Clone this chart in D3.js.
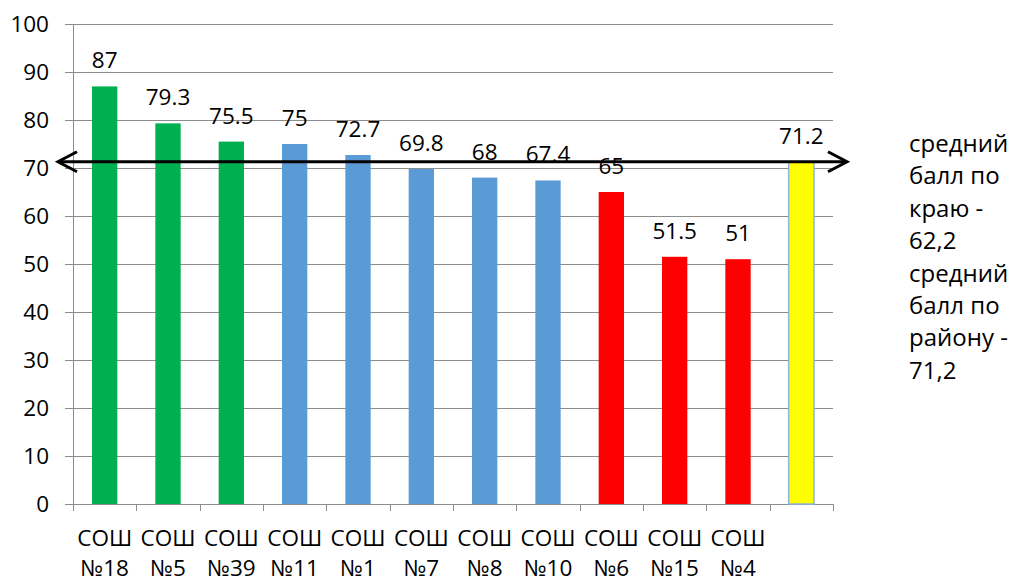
<!DOCTYPE html>
<html>
<head>
  <meta charset="UTF-8" />
  <script src="https://d3js.org/d3.v7.min.js"></script>
  <style>
    body { margin: 0; background: #fff; }
    text { font-family: "Open Sans", sans-serif; fill: #000; }
  </style>
</head>
<body>
  <div id="chart"></div>
  <script>
    // data
    const schools = ["СОШ №18", "СОШ №5", "СОШ №39", "СОШ №11", "СОШ №1", "СОШ №7",
                     "СОШ №8", "СОШ №10", "СОШ №6", "СОШ №15", "СОШ №4", ""];
    const scores = [87, 79.3, 75.5, 75, 72.7, 69.8, 68, 67.4, 65, 51.5, 51, 71.2];
    const groups = ["high", "high", "high", "mid", "mid", "mid", "mid", "mid", "low", "low", "low", "district"];
    const yTicks = [0, 10, 20, 30, 40, 50, 60, 70, 80, 90, 100];
    const districtAvg = 71.2;
    const noteLines = ["средний", "балл по", "краю -", "62,2", "средний", "балл по", "району -", "71,2"];

    const colors = { high: "#00b050", mid: "#5b9bd5", low: "#ff0000", district: "#ffff00" };

    const width = 1017, height = 583;
    const margin = { top: 24, right: 184, bottom: 79, left: 73 };
    const fs = "22.5px";

    const svg = d3.select("#chart").append("svg")
      .attr("width", width)
      .attr("height", height);

    const x = d3.scaleBand()
      .domain(d3.range(schools.length))
      .range([margin.left, width - margin.right])
      .paddingInner(0.6)
      .paddingOuter(0.3);

    const y = d3.scaleLinear()
      .domain([0, 100])
      .range([height - margin.bottom, margin.top]);

    // gridlines
    svg.append("g")
      .selectAll("line")
      .data(yTicks)
      .enter()
      .append("line")
      .attr("x1", margin.left - 8)
      .attr("x2", width - margin.right)
      .attr("y1", d => y(d) + 0.5)
      .attr("y2", d => y(d) + 0.5)
      .attr("stroke", "#8c8c8c")
      .attr("stroke-width", 1);

    // y labels
    svg.append("g")
      .selectAll("text")
      .data(yTicks)
      .enter()
      .append("text")
      .attr("x", margin.left - 24)
      .attr("y", d => y(d))
      .attr("dy", "0.36em")
      .attr("text-anchor", "end")
      .style("font-size", fs)
      .text(d => d);

    // y axis line
    svg.append("line")
      .attr("x1", margin.left + 0.5).attr("x2", margin.left + 0.5)
      .attr("y1", y(100)).attr("y2", y(0) + 7)
      .attr("stroke", "#8c8c8c");

    // x ticks at band boundaries
    const bounds = d3.range(schools.length + 1).map(i => margin.left + i * (width - margin.right - margin.left) / schools.length);
    svg.append("g")
      .selectAll("line")
      .data(bounds)
      .enter()
      .append("line")
      .attr("x1", d => Math.round(d) + 0.5)
      .attr("x2", d => Math.round(d) + 0.5)
      .attr("y1", y(0))
      .attr("y2", y(0) + 7)
      .attr("stroke", "#8c8c8c");

    // x labels (two lines)
    const xl = svg.append("g")
      .selectAll("text")
      .data(schools)
      .enter()
      .append("text")
      .attr("text-anchor", "middle")
      .style("font-size", fs)
      .attr("transform", (d, i) => "translate(" + (x(i) + x.bandwidth() / 2) + ",0)");
    xl.append("tspan").attr("x", 0).attr("y", 546).text(d => d.split(" ")[0] || "");
    xl.append("tspan").attr("x", 0).attr("y", 576).text(d => d.split(" ")[1] || "");

    // bars
    svg.append("g")
      .selectAll("rect")
      .data(scores)
      .enter()
      .append("rect")
      .attr("x", (d, i) => x(i))
      .attr("y", d => y(d))
      .attr("width", x.bandwidth())
      .attr("height", d => y(0) - y(d))
      .attr("fill", (d, i) => colors[groups[i]])
      .attr("stroke", (d, i) => groups[i] === "district" ? "#8db3e2" : "none")
      .attr("stroke-width", 1.5);

    // value labels
    svg.append("g")
      .selectAll("text")
      .data(scores)
      .enter()
      .append("text")
      .attr("x", (d, i) => x(i) + x.bandwidth() / 2)
      .attr("y", d => y(d) - 18)
      .attr("text-anchor", "middle")
      .style("font-size", fs)
      .text(d => d);

    // double arrow at district average
    const ay = y(districtAvg) - 0.5;
    const ax0 = margin.left - 15, ax1 = width - margin.right + 14;
    svg.append("line")
      .attr("x1", ax0 + 1).attr("x2", ax1 - 1)
      .attr("y1", ay).attr("y2", ay)
      .attr("stroke", "#000").attr("stroke-width", 3);
    svg.append("path")
      .attr("d", "M" + (ax0 + 19) + "," + (ay - 10) + "L" + ax0 + "," + ay + "L" + (ax0 + 19) + "," + (ay + 10))
      .attr("fill", "none").attr("stroke", "#000").attr("stroke-width", 3);
    svg.append("path")
      .attr("d", "M" + (ax1 - 19) + "," + (ay - 10) + "L" + ax1 + "," + ay + "L" + (ax1 - 19) + "," + (ay + 10))
      .attr("fill", "none").attr("stroke", "#000").attr("stroke-width", 3);

    // note on the right
    svg.append("g")
      .selectAll("text")
      .data(noteLines)
      .enter()
      .append("text")
      .attr("x", 909)
      .attr("y", (d, i) => 152 + i * 32.4)
      .style("font-size", "24px")
      .text(d => d);
  </script>
</body>
</html>
